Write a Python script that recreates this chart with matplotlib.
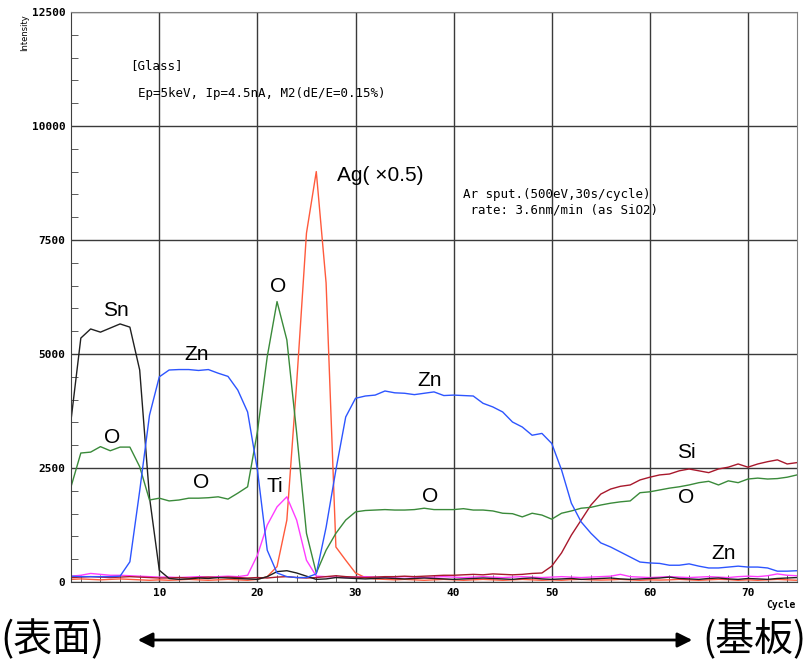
import numpy as np
import matplotlib.pyplot as plt
from matplotlib.ticker import MultipleLocator

# 溅射周期 1..75 的各元素强度
cycle = np.arange(1, 76)
sn = [3550, 5350, 5550, 5480, 5570, 5660, 5590, 4650, 1860, 260,
      80, 60, 70, 90, 80, 100, 90, 80, 70, 60,
      120, 230, 250, 200, 130, 60, 70, 100, 90, 80,
      70, 80, 90, 80, 70, 80, 90, 80, 70, 60,
      70, 80, 90, 80, 70, 60, 80, 90, 70, 60,
      70, 80, 60, 70, 80, 90, 70, 60, 70, 80,
      90, 110, 80, 70, 60, 80, 90, 70, 60, 80,
      70, 60, 80, 90, 100]
zn = [130, 120, 120, 120, 120, 130, 445, 2000, 3660, 4500,
      4650, 4660, 4660, 4640, 4660, 4580, 4510, 4210, 3730, 2460,
      700, 200, 120, 100, 100, 180, 1200, 2460, 3620, 4030,
      4080, 4100, 4190, 4150, 4140, 4110, 4140, 4170, 4090, 4100,
      4090, 4080, 3920, 3840, 3730, 3510, 3400, 3220, 3260, 3040,
      2460, 1730, 1320, 1070, 860, 770, 660, 550, 440, 420,
      410, 370, 370, 400, 350, 310, 310, 330, 350, 330,
      330, 310, 240, 240, 250]
o = [2090, 2830, 2850, 2970, 2880, 2960, 2960, 2530, 1800, 1840,
     1780, 1800, 1840, 1840, 1850, 1870, 1820, 1950, 2090, 3300,
     4940, 6150, 5310, 3270, 1070, 200, 700, 1070, 1360, 1540,
     1570, 1580, 1590, 1580, 1580, 1590, 1620, 1590, 1590, 1590,
     1610, 1580, 1580, 1560, 1510, 1500, 1430, 1510, 1470, 1380,
     1510, 1560, 1620, 1640, 1690, 1730, 1760, 1780, 1960, 1980,
     2020, 2060, 2090, 2130, 2180, 2210, 2130, 2220, 2180, 2260,
     2280, 2260, 2270, 2300, 2350]
ag = [60, 70, 60, 50, 60, 70, 60, 50, 40, 50,
      40, 50, 60, 50, 40, 50, 60, 50, 40, 60,
      120, 340, 1360, 4360, 7650, 9000, 6560, 770, 480, 200,
      100, 70, 60, 50, 60, 50, 40, 50, 60, 50,
      40, 50, 60, 50, 40, 50, 60, 50, 40, 50,
      40, 55, 60, 50, 45, 50, 60, 50, 40, 50,
      45, 50, 60, 50, 40, 50, 60, 55, 40, 50,
      40, 50, 60, 50, 40]
ti = [130, 150, 190, 170, 150, 150, 140, 130, 120, 110,
      110, 100, 110, 120, 110, 120, 130, 120, 150, 590,
      1250, 1650, 1870, 1360, 480, 130, 120, 110, 100, 110,
      120, 110, 100, 110, 120, 110, 100, 110, 120, 110,
      100, 110, 120, 110, 100, 110, 120, 110, 100, 110,
      120, 110, 100, 110, 120, 130, 170, 120, 110, 100,
      110, 120, 110, 100, 110, 120, 110, 100, 120, 130,
      120, 140, 180, 150, 140]
si = [100, 110, 120, 110, 100, 110, 120, 110, 100, 90,
      90, 100, 90, 100, 110, 100, 110, 100, 90, 100,
      90, 110, 120, 100, 90, 100, 120, 140, 120, 110,
      100, 110, 120, 120, 130, 120, 130, 140, 150, 150,
      160, 170, 160, 180, 170, 160, 170, 190, 200, 350,
      640, 1030, 1360, 1690, 1930, 2040, 2100, 2130, 2240, 2300,
      2350, 2370, 2440, 2480, 2440, 2400, 2480, 2520, 2590, 2520,
      2590, 2640, 2680, 2590, 2620]

plt.rcParams['font.family'] = ['Liberation Sans', 'DejaVu Sans']
mono = 'DejaVu Sans Mono'

fig = plt.figure(figsize=(8.07, 6.63), dpi=100)
ax = fig.add_axes([0.088, 0.122, 0.8996, 0.86])

ax.plot(cycle, ag, color='#ff5a3c', linewidth=1)
ax.plot(cycle, ti, color='#ff3cff', linewidth=1)
ax.plot(cycle, si, color='#a8182c', linewidth=1)
ax.plot(cycle, sn, color='#202020', linewidth=1)
ax.plot(cycle, o, color='#3a8a3a', linewidth=1)
ax.plot(cycle, zn, color='#2d55ff', linewidth=1)

ax.set_xlim(1, 75)
ax.set_ylim(0, 12500)
ax.xaxis.set_major_locator(MultipleLocator(10))
ax.xaxis.set_minor_locator(MultipleLocator(2))
ax.yaxis.set_major_locator(MultipleLocator(2500))
ax.yaxis.set_minor_locator(MultipleLocator(500))
ax.tick_params(which='major', length=0, pad=4)
ax.tick_params(which='minor', direction='in', length=5, color='#404040')
for lab in ax.get_xticklabels() + ax.get_yticklabels():
    lab.set_family(mono)
    lab.set_fontsize(8)
    lab.set_fontweight('bold')
ax.grid(which='major', color='#3a3a3a', linewidth=1)
for s in ax.spines.values():
    s.set_color('#808080')
ax.spines['left'].set_color('#404040')
ax.spines['bottom'].set_color('#404040')

# 元素标签
labels = [('Sn', 5.6, 5965), ('Zn', 13.8, 4980), ('O', 5.2, 3180),
          ('O', 14.3, 2190), ('O', 22.1, 6470), ('Ti', 21.8, 2105),
          ('Ag( ×0.5)', 32.5, 8925), ('Zn', 37.6, 4410), ('O', 37.6, 1885),
          ('Si', 63.7, 2850), ('O', 63.7, 1865), ('Zn', 67.5, 635)]
for t, lx, ly in labels:
    ax.text(lx, ly, t, fontsize=15, ha='center', va='center')

ax.text(7.0, 11315, '[Glass]', family=mono, fontsize=9, va='center')
ax.text(7.8, 10720, 'Ep=5keV, Ip=4.5nA, M2(dE/E=0.15%)', family=mono,
        fontsize=9, va='center')
ax.text(41.0, 8490, 'Ar sput.(500eV,30s/cycle)', family=mono, fontsize=9,
        va='center')
ax.text(41.0, 8160, ' rate: 3.6nm/min (as SiO2)', family=mono, fontsize=9,
        va='center')

fig.text(25 / 807, 1 - 33 / 663, 'Intensity', rotation=90, fontsize=6,
         family='DejaVu Sans', ha='center', va='center')
fig.text(781 / 807, 1 - 605 / 663, 'Cycle', family=mono, fontsize=7,
         fontweight='bold', ha='center', va='center')

# 底部：表面 ←→ 基板
jp = ['Noto Sans CJK JP', 'DejaVu Sans']
fig.text(0.0, 1 - 640 / 663, '(表面)', family=jp, fontsize=28,
         ha='left', va='center')
fig.text(1.0, 1 - 640 / 663, '(基板)', family=jp, fontsize=28,
         ha='right', va='center')
fig.patches.append(plt.matplotlib.patches.FancyArrowPatch(
    (135 / 807, 1 - 640 / 663), (695 / 807, 1 - 640 / 663),
    transform=fig.transFigure, arrowstyle='<|-|>', mutation_scale=22,
    linewidth=2, color='black'))

fig.savefig('out.png', dpi=100)
